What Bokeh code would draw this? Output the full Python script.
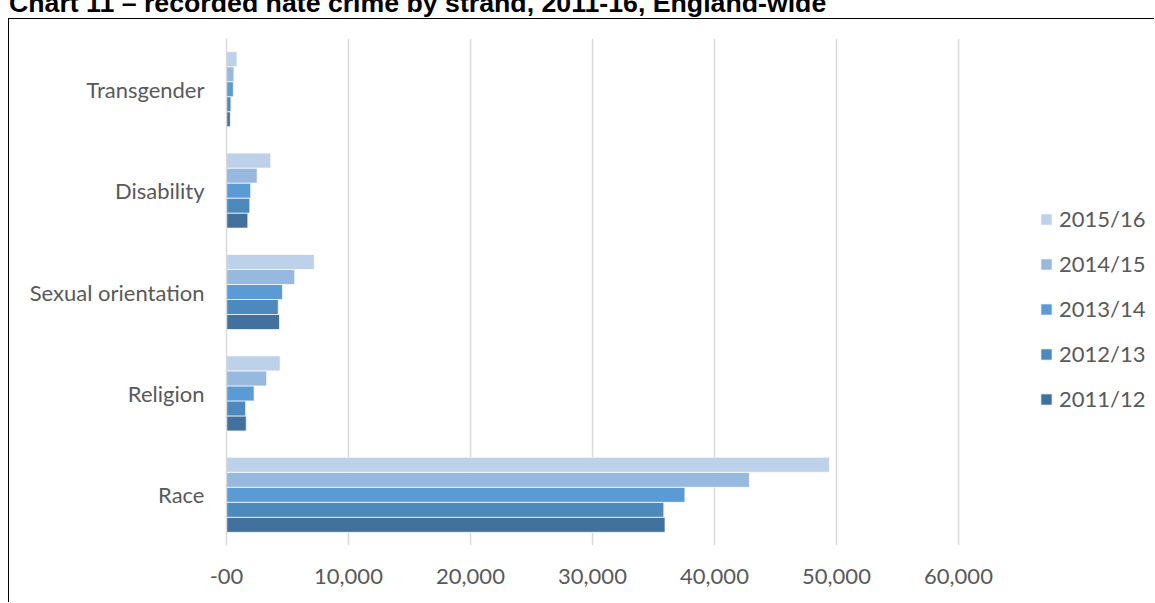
from bokeh.plotting import figure
from bokeh.models import (FactorRange, Range1d, FixedTicker, NumeralTickFormatter,
                          Legend, LegendItem, Div, InlineStyleSheet, ColumnDataSource)
from bokeh.transform import dodge
from bokeh.layouts import column
from bokeh.embed import file_html
from bokeh.resources import INLINE

title_text = "Chart 11 \u2013 recorded hate crime by strand, 2011-16, England-wide"
categories = ["Race", "Religion", "Sexual orientation", "Disability", "Transgender"]
series = ["2011/12", "2012/13", "2013/14", "2014/15", "2015/16"]
v_2011_12 = [35944, 1618, 4345, 1748, 313]
v_2012_13 = [35845, 1572, 4241, 1911, 361]
v_2013_14 = [37575, 2264, 4588, 1985, 559]
v_2014_15 = [42862, 3293, 5591, 2515, 607]
v_2015_16 = [49419, 4400, 7194, 3629, 858]
colors = ["#41719C", "#4E89BD", "#5B9BD5", "#97B9E0", "#BDD1EA"]
x_ticks = [0, 10000, 20000, 30000, 40000, 50000, 60000]

values = [v_2011_12, v_2012_13, v_2013_14, v_2014_15, v_2015_16]
data = {"cat": categories}
for s, v in zip(series, values):
    data[s] = v
source = ColumnDataSource(data)

FONT = "Lato"
FSIZE = "22px"
LABEL_COLOR = "#595959"

W, H = 1146, 584
LEFT, TOP, BOTTOM = 217, 19, 58
frame_w = W - LEFT
axis_span_px = 732  # pixel width covered by 0..60,000
x_max = x_ticks[-1] * frame_w / axis_span_px

p = figure(width=W, height=H,
           y_range=FactorRange(*categories, range_padding=0),
           x_range=Range1d(0, x_max),
           output_backend="svg", toolbar_location=None,
           min_border_left=LEFT, min_border_right=0,
           min_border_top=TOP, min_border_bottom=BOTTOM)
p.stylesheets = [InlineStyleSheet(css=":host { border-left: 1px solid #000; border-top: 1px solid #000; }")]
p.margin = (0, 0, 0, 8)

bar_h = 0.148
renderers = []
for i, (s, c) in enumerate(zip(series, colors)):
    r = p.hbar(y=dodge("cat", (i - 2) * bar_h, range=p.y_range), right=s, left=0,
               height=bar_h, source=source, fill_color=c,
               line_color="white", line_width=0.7)
    renderers.append(r)

p.outline_line_color = None
p.ygrid.grid_line_color = None
p.xgrid.grid_line_color = "#d9d9d9"
p.xgrid.grid_line_width = 1.5

xa = p.xaxis[0]
xa.ticker = FixedTicker(ticks=x_ticks)
xa.formatter = NumeralTickFormatter(format="0,0")
xa.major_label_overrides = {0: "-00"}
xa.axis_line_color = None
xa.major_tick_line_color = None
xa.minor_tick_line_color = None
xa.major_label_standoff = 17
xa.major_label_text_font = FONT
xa.major_label_text_font_size = FSIZE
xa.major_label_text_color = LABEL_COLOR

ya = p.yaxis[0]
ya.axis_line_color = "#d9d9d9"
ya.axis_line_width = 1.5
ya.major_tick_line_color = None
ya.minor_tick_line_color = None
ya.major_label_standoff = 16
ya.major_label_text_font = FONT
ya.major_label_text_font_size = FSIZE
ya.major_label_text_color = LABEL_COLOR

items = [LegendItem(label=s, renderers=[r]) for s, r in zip(series, renderers)][::-1]
legend = Legend(items=items, location=(813, 133), orientation="vertical",
                glyph_width=14, glyph_height=14, label_height=22, spacing=18,
                padding=0, margin=0, border_line_color=None,
                background_fill_alpha=0,
                label_text_font=FONT, label_text_font_size=FSIZE,
                label_text_color=LABEL_COLOR, label_standoff=6)
p.add_layout(legend, "center")

title = Div(text=('<div style="margin:-13px 0 0 9px; font-family:\'Liberation Sans\'; '
                  'font-weight:bold; font-size:26.7px; line-height:26px; white-space:nowrap; '
                  'color:#000;">' + title_text + '</div>'),
            width=1155, height=18, margin=0, styles={"overflow": "hidden"})

layout = column(title, p, spacing=0)
open("out.html", "w").write(file_html(layout, INLINE))
